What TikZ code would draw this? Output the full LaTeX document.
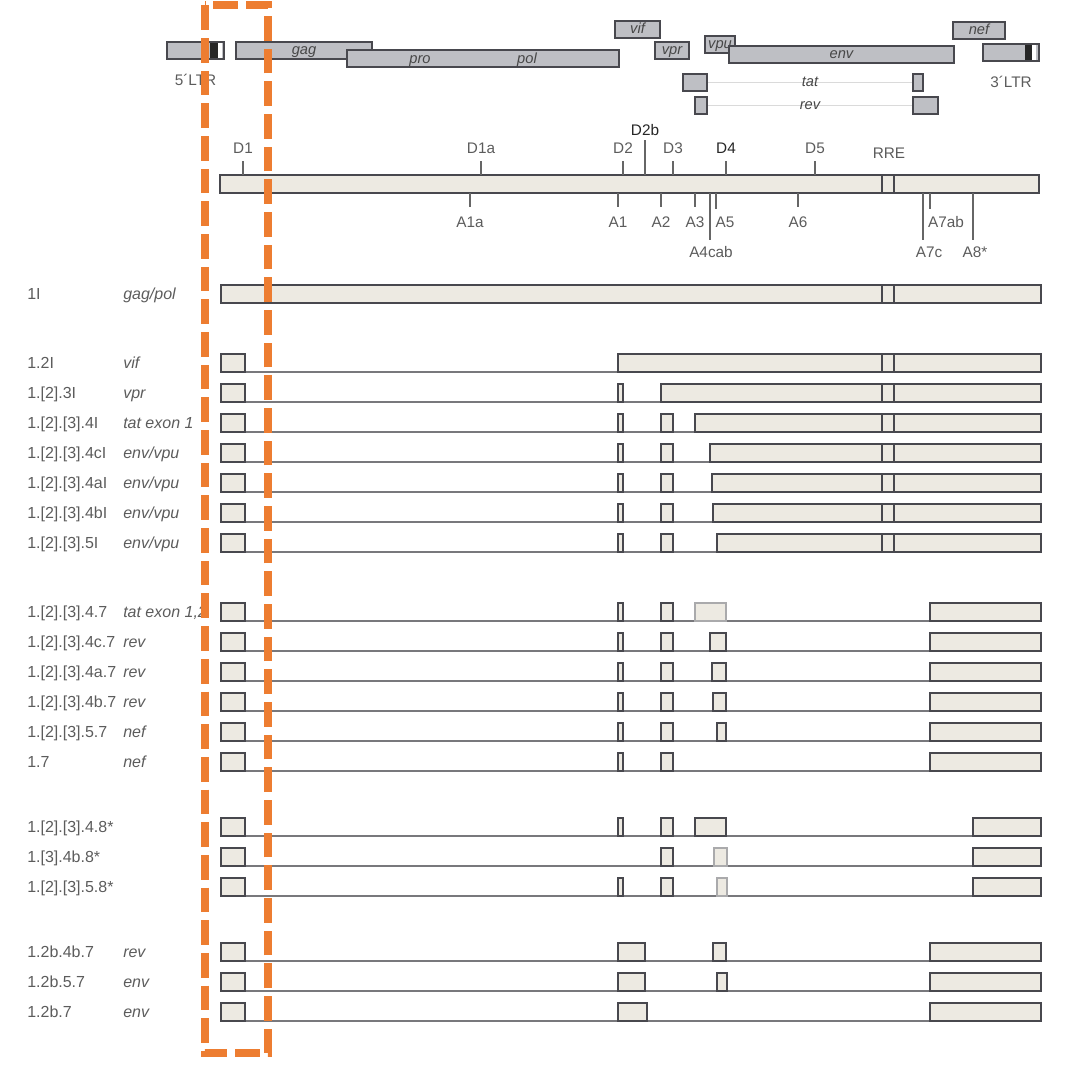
\documentclass[tikz,border=0pt]{standalone}
\usepackage{fontspec}
\setmainfont{Liberation Sans}
\usetikzlibrary{positioning, backgrounds}
\definecolor{edge}{RGB}{72,72,78}
\definecolor{edgelight}{RGB}{170,170,172}
\definecolor{exonfill}{RGB}{237,234,226}
\definecolor{orffill}{RGB}{190,191,196}
\definecolor{labgray}{RGB}{92,92,92}
\definecolor{introngray}{RGB}{120,120,124}
\definecolor{splicegray}{RGB}{218,218,218}
\definecolor{roiorange}{RGB}{237,125,49}
\tikzset{
  exon/.style={
    rectangle, draw=edge, fill=exonfill, line width=1.2pt,
    inner sep=0pt, outer sep=0pt, anchor=north west,
    minimum height=13.5pt, minimum width=#1*0.75pt
  },
  exonlight/.style={exon=#1, draw=edgelight},
  orfbox/.style={
    rectangle, draw=edge, fill=orffill, line width=0.9pt,
    inner sep=0pt, outer sep=0pt, anchor=north west,
    minimum height=12.75pt, minimum width=#1*0.75pt,
    text height=8.2pt, text depth=2pt,
    font=\fontsize{11}{12}\selectfont\itshape, text=black!72
  },
  genelabel/.style={font=\fontsize{11}{12}\selectfont\itshape, text=black!72,
    inner sep=1pt, text height=8.2pt, text depth=2pt},
  splicelabel/.style={font=\fontsize{11.5}{13}\selectfont, text=labgray, inner sep=0pt},
  isolabel/.style={font=\fontsize{12}{14}\selectfont, text=labgray, anchor=base west, inner sep=0pt},
  orflabel/.style={font=\fontsize{12}{14}\selectfont\itshape, text=labgray, anchor=base west, inner sep=0pt},
  intronline/.style={draw=introngray, line width=1.1pt},
  spliceline/.style={draw=splicegray, line width=1.4pt},
  tickline/.style={draw=black!60, line width=1.1pt},
  rreline/.style={draw=edge, line width=1.1pt},
  roibox/.style={draw=roiorange, line width=6pt, dash pattern=on 18.5pt off 6pt},
}
\begin{document}
\begin{tikzpicture}[x=0.75pt, y=-0.75pt]
    \useasboundingbox (0,0) rectangle (1076,1066);
    \node[orfbox=57] (ltr5) at (167,42) {};
    \fill[black!85] (210,42.7) rectangle (218,58.3);
    \fill[white] (218,42.7) rectangle (222,58.3);
    \node[splicelabel, below=11pt of ltr5] (ltr5lab) {5´LTR};
    \node[orfbox=136] (gag) at (236,42) {gag};
    \node[orfbox=272] (polbox) at (347,50) {};
    \node[genelabel] (pro) at (420,59) {pro};
    \node[genelabel] (pol) at (527,59) {pol};
    \node[orfbox=45] (vif) at (615,21) {vif};
    \node[orfbox=34] (vpr) at (655,42) {vpr};
    \node[orfbox=30] (vpu) at (705,36) {vpu};
    \node[orfbox=225] (env) at (729,46) {env};
    \node[orfbox=52] (nef) at (953,22) {nef};
    \node[orfbox=56] (ltr3) at (983,44) {};
    \fill[black!85] (1025,44.7) rectangle (1032,60.3);
    \fill[white] (1032,44.7) rectangle (1036,60.3);
    \node[splicelabel, below=11pt of ltr3] (ltr3lab) {3´LTR};
    \node[orfbox=24] (tatA) at (683,74) {};
    \node[orfbox=10] (tatB) at (913,74) {};
    \node[orfbox=12] (revA) at (695,97) {};
    \node[orfbox=25] (revB) at (913,97) {};
    \begin{scope}[on background layer]
      \draw[spliceline] (tatA) -- node[genelabel] (tatlab) {tat} (tatB);
      \draw[spliceline] (revA) -- node[genelabel] (revlab) {rev} (revB);
    \end{scope}

    \node[exon=819] (genome) at (220,175) {};
    \draw[rreline] (genome.north -| 882,0) -- (genome.south -| 882,0);
    \draw[rreline] (genome.north -| 894,0) -- (genome.south -| 894,0);
    \node[splicelabel] (d1)  at (243,148) {D1};
    \node[splicelabel] (d1a) at (481,148) {D1a};
    \node[splicelabel] (d2)  at (623,148) {D2};
    \node[splicelabel, text=black!85] (d2b) at (645,130) {D2b};
    \node[splicelabel] (d3)  at (673,148) {D3};
    \node[splicelabel, text=black!85] (d4)  at (726,148) {D4};
    \node[splicelabel] (d5)  at (815,148) {D5};
    \node[splicelabel] (rre) at (889,153) {RRE};
    \draw[tickline] (genome.north -| d1)  -- ++(0,-14);
    \draw[tickline] (genome.north -| d1a) -- ++(0,-14);
    \draw[tickline] (genome.north -| d2)  -- ++(0,-14);
    \draw[tickline] (genome.north -| d2b) -- ++(0,-35);
    \draw[tickline] (genome.north -| d3)  -- ++(0,-14);
    \draw[tickline] (genome.north -| d4)  -- ++(0,-14);
    \draw[tickline] (genome.north -| d5)  -- ++(0,-14);
    \node[splicelabel] (a1a)   at (470,222) {A1a};
    \node[splicelabel] (a1)    at (618,222) {A1};
    \node[splicelabel] (a2)    at (661,222) {A2};
    \node[splicelabel] (a3)    at (695,222) {A3};
    \node[splicelabel] (a4cab) at (711,252) {A4cab};
    \node[splicelabel] (a5)    at (725,222) {A5};
    \node[splicelabel] (a6)    at (798,222) {A6};
    \node[splicelabel] (a7c)   at (929,252) {A7c};
    \node[splicelabel] (a7ab)  at (946,222) {A7ab};
    \node[splicelabel] (a8)    at (975,252) {A8*};
    \draw[tickline] (genome.south -| a1a) -- ++(0,14);
    \draw[tickline] (genome.south -| a1)  -- ++(0,14);
    \draw[tickline] (genome.south -| a2)  -- ++(0,14);
    \draw[tickline] (genome.south -| a3)  -- ++(0,14);
    \draw[tickline] (genome.south -| 710,0) -- ++(0,47);
    \draw[tickline] (genome.south -| 716,0) -- ++(0,16);
    \draw[tickline] (genome.south -| a6)  -- ++(0,14);
    \draw[tickline] (genome.south -| 923,0) -- ++(0,47);
    \draw[tickline] (genome.south -| 930,0) -- ++(0,16);
    \draw[tickline] (genome.south -| 973,0) -- ++(0,47);

    \node[isolabel] (iso1) at (27,299.5) {1I};
    \node[orflabel] (orf1) at (123,299.5) {gag/pol};
    \node[exon=820] (r1a) at (221,285) {};

    \node[isolabel] (iso2) at (27,368.5) {1.2I};
    \node[orflabel] (orf2) at (123,368.5) {vif};
    \node[exon=24]  (r2a) at (221,354) {};
    \node[exon=423] (r2d) at (618,354) {};

    \node[isolabel] (iso3) at (27,398.5) {1.[2].3I};
    \node[orflabel] (orf3) at (123,398.5) {vpr};
    \node[exon=24]  (r3a) at (221,384) {};
    \node[exon=5]   (r3b) at (618,384) {};
    \node[exon=380] (r3d) at (661,384) {};

    \node[isolabel] (iso4) at (27,428.5) {1.[2].[3].4I};
    \node[orflabel] (orf4) at (123,428.5) {tat exon 1};
    \node[exon=24]  (r4a) at (221,414) {};
    \node[exon=5]   (r4b) at (618,414) {};
    \node[exon=12]  (r4c) at (661,414) {};
    \node[exon=346] (r4d) at (695,414) {};

    \node[isolabel] (iso5) at (27,458.5) {1.[2].[3].4cI};
    \node[orflabel] (orf5) at (123,458.5) {env/vpu};
    \node[exon=24]  (r5a) at (221,444) {};
    \node[exon=5]   (r5b) at (618,444) {};
    \node[exon=12]  (r5c) at (661,444) {};
    \node[exon=331] (r5d) at (710,444) {};

    \node[isolabel] (iso6) at (27,488.5) {1.[2].[3].4aI};
    \node[orflabel] (orf6) at (123,488.5) {env/vpu};
    \node[exon=24]  (r6a) at (221,474) {};
    \node[exon=5]   (r6b) at (618,474) {};
    \node[exon=12]  (r6c) at (661,474) {};
    \node[exon=329] (r6d) at (712,474) {};

    \node[isolabel] (iso7) at (27,518.5) {1.[2].[3].4bI};
    \node[orflabel] (orf7) at (123,518.5) {env/vpu};
    \node[exon=24]  (r7a) at (221,504) {};
    \node[exon=5]   (r7b) at (618,504) {};
    \node[exon=12]  (r7c) at (661,504) {};
    \node[exon=328] (r7d) at (713,504) {};

    \node[isolabel] (iso8) at (27,548.5) {1.[2].[3].5I};
    \node[orflabel] (orf8) at (123,548.5) {env/vpu};
    \node[exon=24]  (r8a) at (221,534) {};
    \node[exon=5]   (r8b) at (618,534) {};
    \node[exon=12]  (r8c) at (661,534) {};
    \node[exon=324] (r8d) at (717,534) {};

    \node[isolabel] (iso9) at (27,617.5) {1.[2].[3].4.7};
    \node[orflabel] (orf9) at (123,617.5) {tat exon 1,2};
    \node[exon=24]  (r9a) at (221,603) {};
    \node[exon=5]   (r9b) at (618,603) {};
    \node[exon=12]  (r9c) at (661,603) {};
    \node[exonlight=31] (r9d) at (695,603) {};
    \node[exon=111] (r9e) at (930,603) {};

    \node[isolabel] (iso10) at (27,647.5) {1.[2].[3].4c.7};
    \node[orflabel] (orf10) at (123,647.5) {rev};
    \node[exon=24]  (r10a) at (221,633) {};
    \node[exon=5]   (r10b) at (618,633) {};
    \node[exon=12]  (r10c) at (661,633) {};
    \node[exon=16]  (r10d) at (710,633) {};
    \node[exon=111] (r10e) at (930,633) {};

    \node[isolabel] (iso11) at (27,677.5) {1.[2].[3].4a.7};
    \node[orflabel] (orf11) at (123,677.5) {rev};
    \node[exon=24]  (r11a) at (221,663) {};
    \node[exon=5]   (r11b) at (618,663) {};
    \node[exon=12]  (r11c) at (661,663) {};
    \node[exon=14]  (r11d) at (712,663) {};
    \node[exon=111] (r11e) at (930,663) {};

    \node[isolabel] (iso12) at (27,707.5) {1.[2].[3].4b.7};
    \node[orflabel] (orf12) at (123,707.5) {rev};
    \node[exon=24]  (r12a) at (221,693) {};
    \node[exon=5]   (r12b) at (618,693) {};
    \node[exon=12]  (r12c) at (661,693) {};
    \node[exon=13]  (r12d) at (713,693) {};
    \node[exon=111] (r12e) at (930,693) {};

    \node[isolabel] (iso13) at (27,737.5) {1.[2].[3].5.7};
    \node[orflabel] (orf13) at (123,737.5) {nef};
    \node[exon=24]  (r13a) at (221,723) {};
    \node[exon=5]   (r13b) at (618,723) {};
    \node[exon=12]  (r13c) at (661,723) {};
    \node[exon=9]   (r13d) at (717,723) {};
    \node[exon=111] (r13e) at (930,723) {};

    \node[isolabel] (iso14) at (27,767.5) {1.7};
    \node[orflabel] (orf14) at (123,767.5) {nef};
    \node[exon=24]  (r14a) at (221,753) {};
    \node[exon=5]   (r14b) at (618,753) {};
    \node[exon=12]  (r14c) at (661,753) {};
    \node[exon=111] (r14e) at (930,753) {};

    \node[isolabel] (iso15) at (27,832.5) {1.[2].[3].4.8*};
    \node[exon=24]  (r15a) at (221,818) {};
    \node[exon=5]   (r15b) at (618,818) {};
    \node[exon=12]  (r15c) at (661,818) {};
    \node[exon=31]  (r15d) at (695,818) {};
    \node[exon=68]  (r15e) at (973,818) {};

    \node[isolabel] (iso16) at (27,862.5) {1.[3].4b.8*};
    \node[exon=24]  (r16a) at (221,848) {};
    \node[exon=12]  (r16c) at (661,848) {};
    \node[exonlight=13] (r16d) at (714,848) {};
    \node[exon=68]  (r16e) at (973,848) {};

    \node[isolabel] (iso17) at (27,892.5) {1.[2].[3].5.8*};
    \node[exon=24]  (r17a) at (221,878) {};
    \node[exon=5]   (r17b) at (618,878) {};
    \node[exon=12]  (r17c) at (661,878) {};
    \node[exonlight=10] (r17d) at (717,878) {};
    \node[exon=68]  (r17e) at (973,878) {};

    \node[isolabel] (iso18) at (27,957.5) {1.2b.4b.7};
    \node[orflabel] (orf18) at (123,957.5) {rev};
    \node[exon=24]  (r18a) at (221,943) {};
    \node[exon=27]  (r18b) at (618,943) {};
    \node[exon=13]  (r18d) at (713,943) {};
    \node[exon=111] (r18e) at (930,943) {};

    \node[isolabel] (iso19) at (27,987.5) {1.2b.5.7};
    \node[orflabel] (orf19) at (123,987.5) {env};
    \node[exon=24]  (r19a) at (221,973) {};
    \node[exon=27]  (r19b) at (618,973) {};
    \node[exon=10]  (r19d) at (717,973) {};
    \node[exon=111] (r19e) at (930,973) {};

    \node[isolabel] (iso20) at (27,1017.5) {1.2b.7};
    \node[orflabel] (orf20) at (123,1017.5) {env};
    \node[exon=24]  (r20a) at (221,1003) {};
    \node[exon=29]  (r20b) at (618,1003) {};
    \node[exon=111] (r20e) at (930,1003) {};

    \draw[rreline] (r1a.north -| 882,0) -- (r1a.south -| 882,0);
    \draw[rreline] (r1a.north -| 894,0) -- (r1a.south -| 894,0);
    \draw[rreline] (r2d.north -| 882,0) -- (r2d.south -| 882,0);
    \draw[rreline] (r2d.north -| 894,0) -- (r2d.south -| 894,0);
    \draw[rreline] (r3d.north -| 882,0) -- (r3d.south -| 882,0);
    \draw[rreline] (r3d.north -| 894,0) -- (r3d.south -| 894,0);
    \draw[rreline] (r4d.north -| 882,0) -- (r4d.south -| 882,0);
    \draw[rreline] (r4d.north -| 894,0) -- (r4d.south -| 894,0);
    \draw[rreline] (r5d.north -| 882,0) -- (r5d.south -| 882,0);
    \draw[rreline] (r5d.north -| 894,0) -- (r5d.south -| 894,0);
    \draw[rreline] (r6d.north -| 882,0) -- (r6d.south -| 882,0);
    \draw[rreline] (r6d.north -| 894,0) -- (r6d.south -| 894,0);
    \draw[rreline] (r7d.north -| 882,0) -- (r7d.south -| 882,0);
    \draw[rreline] (r7d.north -| 894,0) -- (r7d.south -| 894,0);
    \draw[rreline] (r8d.north -| 882,0) -- (r8d.south -| 882,0);
    \draw[rreline] (r8d.north -| 894,0) -- (r8d.south -| 894,0);

    \begin{scope}[on background layer]
      \draw[intronline] (r2a.south east)  -- (r2d.south west);
      \draw[intronline] (r3a.south east)  -- (r3d.south west);
      \draw[intronline] (r4a.south east)  -- (r4d.south west);
      \draw[intronline] (r5a.south east)  -- (r5d.south west);
      \draw[intronline] (r6a.south east)  -- (r6d.south west);
      \draw[intronline] (r7a.south east)  -- (r7d.south west);
      \draw[intronline] (r8a.south east)  -- (r8d.south west);
      \draw[intronline] (r9a.south east)  -- (r9e.south west);
      \draw[intronline] (r10a.south east) -- (r10e.south west);
      \draw[intronline] (r11a.south east) -- (r11e.south west);
      \draw[intronline] (r12a.south east) -- (r12e.south west);
      \draw[intronline] (r13a.south east) -- (r13e.south west);
      \draw[intronline] (r14a.south east) -- (r14e.south west);
      \draw[intronline] (r15a.south east) -- (r15e.south west);
      \draw[intronline] (r16a.south east) -- (r16e.south west);
      \draw[intronline] (r17a.south east) -- (r17e.south west);
      \draw[intronline] (r18a.south east) -- (r18e.south west);
      \draw[intronline] (r19a.south east) -- (r19e.south west);
      \draw[intronline] (r20a.south east) -- (r20e.south west);
    \end{scope}

    \draw[roibox] (204.5,5.5) rectangle (268,1053);
  \end{tikzpicture}
\end{document}
